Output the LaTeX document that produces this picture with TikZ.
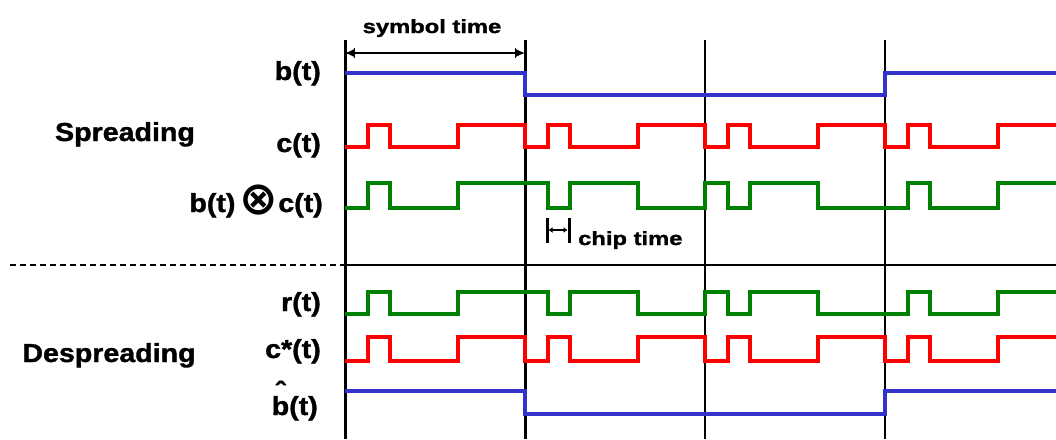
\documentclass[tikz,border=0pt]{standalone}
\usepackage{fontspec}
\newfontfamily\lblfont{Liberation Sans}[FakeStretch=1.1,FakeBold=1.3]
\newfontfamily\notefont{Liberation Sans}[FakeStretch=1.25,FakeBold=1.6]
\newfontfamily\symfont{DejaVu Sans}
\usetikzlibrary{arrows.meta}

\definecolor{sigblue}{RGB}{51,51,204}
\definecolor{sigred}{RGB}{255,0,0}
\definecolor{siggreen}{RGB}{0,128,0}

\tikzset{
  siglabel/.style={anchor=base east, inner sep=0pt, font=\lblfont\bfseries\fontsize{26}{28}\selectfont},
  grouplabel/.style={anchor=base, inner sep=0pt, font=\lblfont\bfseries\fontsize{26}{28}\selectfont},
  notelabel/.style={anchor=base, inner sep=0pt, font=\notefont\bfseries\fontsize{19}{21}\selectfont},
  wave/.style={line width=4pt},
}

% chip = 22.5, symbol = 8 chips, first symbol starts at x = 345
% #1 colour, #2 high level, #3 low level, #4 first bit, #5 bits
\newcommand{\chipwave}[5]{%
  \draw[wave,#1] (345,{#3+#4*(#2-#3)})
    \foreach \b [count=\i from 0] in {#5} { |- ({345+(\i+1)*22.5},{#3+\b*(#2-#3)}) };
}
\newcommand{\bhat}{\shortstack{\char"02C6\\[-7pt]b}}

\begin{document}
\begin{tikzpicture}[x=1pt,y=-1pt]
  % pixel grid, y going down
  \useasboundingbox (0,0) rectangle (1056,439);
  \clip (0,0) rectangle (1056,439);

  % symbol boundaries and the divider
  \foreach \x/\w in {345/3pt,525/3pt,705/1.2pt,885/1.2pt}
    \draw[line width=\w] (\x,40) -- (\x,439);
  \coordinate (dashL) at (10,265);
  \coordinate (dashR) at (368,265);
  \coordinate (divL) at (345,265);
  \coordinate (divR) at (1056,265);
  \draw[line width=1.1pt,dash pattern=on 6pt off 4pt] (dashL) -- (dashR);
  \draw[line width=1.3pt] (divL) -- (divR);

  % spreading
  \chipwave{sigblue}{73}{95}{1}{1,1,1,1,1,1,1,1, 0,0,0,0,0,0,0,0, 0,0,0,0,0,0,0,0, 1,1,1,1,1,1,1,1}
  \chipwave{sigred}{125}{147}{0}{0,1,0,0,0,1,1,1, 0,1,0,0,0,1,1,1, 0,1,0,0,0,1,1,1, 0,1,0,0,0,1,1,1}
  \chipwave{siggreen}{183}{208}{0}{0,1,0,0,0,1,1,1, 1,0,1,1,1,0,0,0, 1,0,1,1,1,0,0,0, 0,1,0,0,0,1,1,1}

  % despreading
  \chipwave{siggreen}{292}{314}{0}{0,1,0,0,0,1,1,1, 1,0,1,1,1,0,0,0, 1,0,1,1,1,0,0,0, 0,1,0,0,0,1,1,1}
  \chipwave{sigred}{337}{361}{0}{0,1,0,0,0,1,1,1, 0,1,0,0,0,1,1,1, 0,1,0,0,0,1,1,1, 0,1,0,0,0,1,1,1}
  \chipwave{sigblue}{391}{414}{1}{1,1,1,1,1,1,1,1, 0,0,0,0,0,0,0,0, 0,0,0,0,0,0,0,0, 1,1,1,1,1,1,1,1}

  % signal names
  \node[grouplabel] (spread) at (125,141) {Spreading};
  \node[grouplabel] (despread) at (109,362) {Despreading};
  \node[siglabel] (lbl-b) at (321,80) {b(t)};
  \node[siglabel] (lbl-c) at (321,152) {c(t)};
  \node[siglabel] (lbl-bc) at (323,212) {b(t)\,\raisebox{-2pt}{\symfont\bfseries\fontsize{46}{46}\selectfont ⊗}c(t)};
  \node[siglabel] (lbl-r) at (321,311) {r(t)};
  \node[siglabel] (lbl-cs) at (321,358) {c*(t)};
  \node[siglabel] (lbl-bh) at (318,415) {\bhat(t)};

  % symbol time
  \coordinate (symL) at (345,53);
  \coordinate (symR) at (525,53);
  \draw[line width=1.3pt,{Latex[length=9pt,width=8pt]Bar[width=10pt]}-{Bar[width=10pt]Latex[length=9pt,width=8pt]}] (symL) -- (symR);
  \node[notelabel] (symtxt) at (432,33) {symbol time};

  % chip time
  \coordinate (chipL) at (547,230);
  \coordinate (chipR) at (569,230);
  \draw[line width=3pt] ([yshift=12pt]chipL) -- ([yshift=-13pt]chipL);
  \draw[line width=3pt] ([yshift=12pt]chipR) -- ([yshift=-13pt]chipR);
  \draw[line width=1.5pt,{Latex[length=4pt,width=6pt]}-{Latex[length=4pt,width=6pt]}] ([xshift=1.5pt]chipL) -- ([xshift=-1.5pt]chipR);
  \node[notelabel,anchor=base west] (chiptxt) at (578,245) {chip time};
\end{tikzpicture}
\end{document}
